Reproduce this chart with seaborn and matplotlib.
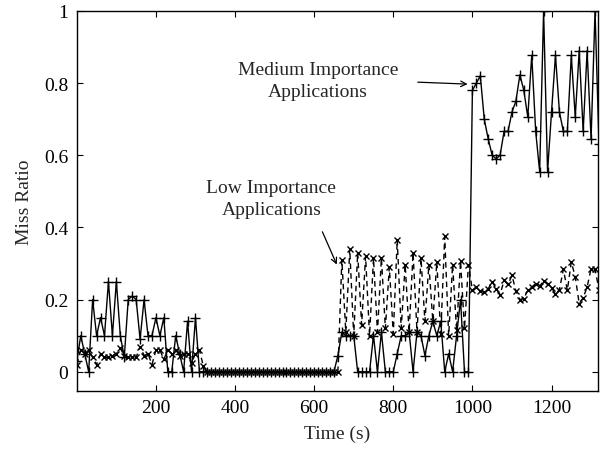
import numpy as np
import pandas as pd
import matplotlib
matplotlib.use("Agg")
import matplotlib.pyplot as plt
import seaborn as sns

# ---- data ----
time_s = np.arange(0, 1321, 10)

medium_ratio = [
    0.03, 0.1, 0.05, 0, 0.2, 0.1, 0.15, 0.1, 0.25, 0.1, 0.25, 0.1, 0.04, 0.2, 0.21, 0.2,
    0.09, 0.2, 0.1, 0.1, 0.15, 0.1, 0.15, 0, 0, 0.1, 0.05, 0, 0.14, 0, 0.15, 0,
    0, 0, 0, 0, 0, 0, 0, 0, 0, 0, 0, 0, 0, 0, 0, 0, 0,
    0, 0, 0, 0, 0, 0, 0, 0, 0, 0, 0, 0, 0, 0, 0, 0, 0,
    0.045, 0.11, 0.1, 0.1, 0.1, 0, 0, 0, 0, 0.1, 0, 0.11, 0, 0, 0, 0.05, 0.1,
    0.1, 0.11, 0, 0.11, 0.1, 0.045, 0.1, 0.14, 0.1, 0.14, 0, 0.05, 0, 0.1, 0.2, 0, 0,
    0.78, 0.8,
    0.82, 0.70, 0.645, 0.60, 0.59, 0.60, 0.666, 0.666, 0.72, 0.75, 0.823, 0.78, 0.706,
    0.877, 0.666, 0.555, 1.0, 0.555, 0.72, 0.877, 0.72, 0.666, 0.666, 0.877, 0.706,
    0.89, 0.666, 0.89, 0.645, 1.0,
    0.63,
]

low_ratio = [
    0.02, 0.06, 0.05, 0.06, 0.04, 0.02, 0.05, 0.04, 0.04, 0.045, 0.05, 0.065, 0.045,
    0.04, 0.04, 0.04, 0.07, 0.045, 0.05, 0.02, 0.06, 0.06, 0.035, 0.06, 0.05, 0.06,
    0.045, 0.05, 0.05, 0.025, 0.05, 0.06,
    0.015,
    0, 0, 0, 0, 0, 0, 0, 0, 0, 0, 0, 0, 0, 0, 0, 0,
    0, 0, 0, 0, 0, 0, 0, 0, 0, 0, 0, 0, 0, 0, 0, 0, 0,
    0.0, 0.31, 0.11, 0.34, 0.10, 0.33, 0.13, 0.32, 0.10, 0.315, 0.11, 0.315, 0.12,
    0.29, 0.105, 0.366, 0.12, 0.297, 0.11, 0.33, 0.11, 0.315, 0.14, 0.297, 0.14,
    0.304, 0.105, 0.375, 0.10, 0.297, 0.115, 0.307, 0.12, 0.297,
    0.226, 0.235, 0.223, 0.22, 0.23, 0.25, 0.23, 0.214, 0.253, 0.242, 0.267, 0.224,
    0.2, 0.203, 0.226, 0.235, 0.244, 0.237, 0.252, 0.244, 0.233, 0.215, 0.228, 0.284,
    0.226, 0.304, 0.263, 0.189, 0.205, 0.235, 0.286, 0.284, 0.228,
]

x_ticks = [200, 400, 600, 800, 1000, 1200]
y_ticks = [0, 0.2, 0.4, 0.6, 0.8, 1.0]
y_tick_labels = ["0", "0.2", "0.4", "0.6", "0.8", "1"]

df = pd.DataFrame({"t": time_s, "medium": medium_ratio, "low": low_ratio})

sns.set_style("ticks")
plt.rcParams["font.family"] = ["Liberation Serif", "DejaVu Serif"]

fig = plt.figure(figsize=(6.0, 4.52), dpi=100)
ax = fig.add_axes([0.128, 0.133, 0.869, 0.8405])

sns.lineplot(data=df, x="t", y="low", ax=ax, color="black", linewidth=1.0,
             linestyle=(0, (4, 3)), marker="x", markersize=5, markeredgewidth=1.0,
             markeredgecolor="black", estimator=None, sort=False)
sns.lineplot(data=df, x="t", y="medium", ax=ax, color="black", linewidth=1.0,
             marker="+", markersize=7, markeredgewidth=1.0,
             markeredgecolor="black", estimator=None, sort=False)

ax.set_xlim(0, 1318)
ax.set_ylim(-0.053, 1.0)
ax.set_xticks(x_ticks)
ax.set_yticks(y_ticks)
ax.set_yticklabels(y_tick_labels)
ax.tick_params(direction="in", top=True, right=True, length=4, width=0.8,
               labelsize=14, colors="black", pad=6)
for s in ax.spines.values():
    s.set_visible(True)
    s.set_color("black")
    s.set_linewidth(1.0)

ax.set_xlabel("Time (s)", fontsize=14, labelpad=6)
ax.set_ylabel("Miss Ratio", fontsize=14, labelpad=8)

ax.text(610, 0.807, "Medium Importance\nApplications", ha="center", va="center",
        fontsize=14, linespacing=1.35)
ax.annotate("", xy=(995, 0.797), xytext=(855, 0.803),
            arrowprops=dict(arrowstyle="->", color="black", lw=0.9))

ax.text(492, 0.48, "Low Importance\nApplications", ha="center", va="center",
        fontsize=14, linespacing=1.35)
ax.annotate("", xy=(660, 0.29), xytext=(618, 0.395),
            arrowprops=dict(arrowstyle="->", color="black", lw=0.9))

fig.savefig("out.png", dpi=100)
